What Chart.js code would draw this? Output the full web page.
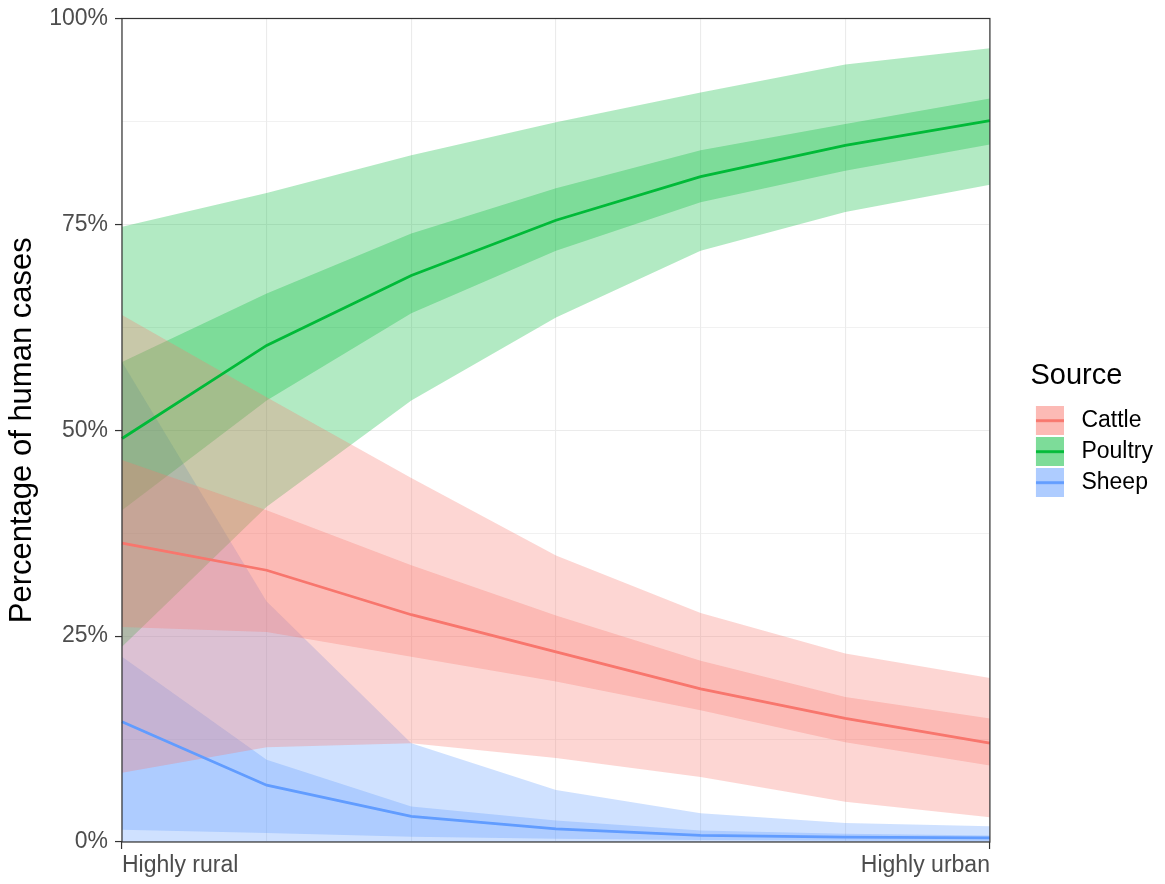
<!DOCTYPE html>
<html>
<head>
<meta charset="utf-8">
<script src="https://cdn.jsdelivr.net/npm/chart.js@4.4.1/dist/chart.umd.min.js"></script>
<style>
html,body{margin:0;padding:0;background:#fff;}
#wrap{width:1165px;height:884px;}
</style>
</head>
<body>
<div id="wrap"><canvas id="c" width="1165" height="884"></canvas></div>
<script>
//x categories (only the ends are labelled)
var xLabels=['Highly rural','','','','','','Highly urban'];
//y ticks
var yTickStep=12.5;
var yLabelStep=25;
var sources=['Cattle','Poultry','Sheep'];

//cattle: outer band, inner band, median
var cattleLightHi=[64,54,44.2,34.8,27.8,22.9,19.9];
var cattleDarkHi=[46.4,40.3,33.6,27.5,22,17.6,15];
var cattleMid=[36.3,33,27.6,23.1,18.6,15,12];
var cattleDarkLo=[26.1,25.5,22.5,19.5,16,12.1,9.3];
var cattleLightLo=[8.4,11.5,12,10.2,7.9,4.9,3];

//poultry
var poultryLightHi=[74.7,78.8,83.4,87.4,91,94.4,96.4];
var poultryDarkHi=[58.3,66.6,73.9,79.4,84,87.2,90.3];
var poultryMid=[49,60.3,68.8,75.5,80.8,84.6,87.6];
var poultryDarkLo=[40.3,53.6,64.2,71.8,77.7,81.5,84.7];
var poultryLightLo=[23.7,40.7,53.6,63.7,71.8,76.5,79.8];

//sheep
var sheepLightHi=[58.3,29.2,12,6.3,3.5,2.3,1.9];
var sheepDarkHi=[22.5,10,4.3,2.6,1.4,1,0.8];
var sheepMid=[14.6,6.9,3.1,1.6,0.8,0.6,0.5];
var sheepDarkLo=[1.5,1.1,0.65,0.4,0.25,0.15,0.1];
var sheepLightLo=[0,0,0,0,0,0,0];

var colors={Cattle:[248,118,109],Poultry:[0,186,56],Sheep:[97,156,255]};
var bands={
	Cattle:[cattleLightLo,cattleLightHi,cattleDarkLo,cattleDarkHi,cattleMid],
	Poultry:[poultryLightLo,poultryLightHi,poultryDarkLo,poultryDarkHi,poultryMid],
	Sheep:[sheepLightLo,sheepLightHi,sheepDarkLo,sheepDarkHi,sheepMid]
};

function rgba(c,a){return 'rgba('+c[0]+','+c[1]+','+c[2]+','+a+')';}
function rgb(c){return 'rgb('+c[0]+','+c[1]+','+c[2]+')';}

//build datasets: lower edge, upper edge filled to lower, for each band, then the line
var datasets=[];
sources.forEach(function(s){
	var c=colors[s], b=bands[s];
	var edge={fill:false,borderColor:'rgba(0,0,0,0)',borderWidth:0,pointRadius:0};
	datasets.push(Object.assign({label:s+' lo95',data:b[0]},edge));
	datasets.push(Object.assign({},edge,{label:s+' hi95',data:b[1],fill:'-1',backgroundColor:rgba(c,0.3)}));
	datasets.push(Object.assign({label:s+' lo50',data:b[2]},edge));
	datasets.push(Object.assign({},edge,{label:s+' hi50',data:b[3],fill:'-1',backgroundColor:rgba(c,0.3)}));
	datasets.push({label:s,data:b[4],fill:false,borderColor:rgb(c),borderWidth:2.8,pointRadius:0,order:-1});
});

//legend key: filled square with line, drawn on a small canvas
var keyW=72;
function makeKey(c){
	var cv=document.createElement('canvas');
	cv.width=60;cv.height=29;
	var k=cv.getContext('2d');
	k.fillStyle=rgba(c,0.3);
	k.fillRect(32,0,28,29);
	k.fillRect(32,0,28,29);
	k.strokeStyle=rgb(c);
	k.lineWidth=2.8;
	k.beginPath();k.moveTo(32,14.5);k.lineTo(60,14.5);k.stroke();
	return cv;
}
var keys=sources.map(function(s){return makeKey(colors[s]);});

//panel border
var panelBorder={
	id:'panelBorder',
	afterDatasetsDraw:function(chart){
		var a=chart.chartArea,ctx=chart.ctx;
		ctx.save();
		ctx.strokeStyle='#333';
		ctx.lineWidth=1.2;
		ctx.strokeRect(a.left,a.top,a.right-a.left,a.bottom-a.top);
		ctx.restore();
	}
};

Chart.defaults.font.family="'Liberation Sans', Arial, sans-serif";

var chart=new Chart(document.getElementById('c').getContext('2d'),{
	type:'line',
	data:{labels:xLabels,datasets:datasets},
	options:{
		responsive:false,
		animation:false,
		devicePixelRatio:1,
		events:[],
		layout:{padding:{top:18,right:2,left:0,bottom:0}},
		scales:{
			x:{
				offset:false,
				border:{display:false},
				grid:{
					color:'#ebebeb',
					lineWidth:1.1,
					tickLength:7,
					tickWidth:1.2,
					tickColor:function(c){return (c.index===0||c.index===xLabels.length-1)?'#333':'rgba(0,0,0,0)';}
				},
				ticks:{autoSkip:false,maxRotation:0,align:'inner',padding:3,color:'#4d4d4d',font:{size:23}},
				afterFit:function(s){s.height=42;}
			},
			y:{
				min:0,max:100,
				border:{display:false},
				grid:{
					color:'#ebebeb',
					lineWidth:function(c){return (c.tick&&c.tick.value%yLabelStep===0)?1.1:0.7;},
					tickLength:7,
					tickWidth:1.2,
					tickColor:function(c){return (c.tick&&c.tick.value%yLabelStep===0)?'#333':'rgba(0,0,0,0)';}
				},
				ticks:{
					stepSize:yTickStep,autoSkip:false,padding:7,color:'#4d4d4d',font:{size:23,lineHeight:1},
					callback:function(v){return v%yLabelStep===0?v+'%':'';}
				},
				title:{display:true,text:'Percentage of human cases',color:'#000',font:{size:31},padding:{top:4,bottom:0}},
				afterFit:function(s){s.width=122;}
			}
		},
		plugins:{
			tooltip:{enabled:false},
			legend:{
				position:'right',
				align:'center',
				fullSize:false,
				title:{display:true,text:'Source',color:'#000',font:{size:29},padding:{top:3,bottom:5},position:'center'},
				labels:{
					usePointStyle:true,
					pointStyleWidth:keyW,
					padding:8,
					color:'#1a1a1a',
					font:{size:23},
					generateLabels:function(){
						return sources.map(function(s,i){
							return {text:s,pointStyle:keys[i],fillStyle:'rgba(0,0,0,0)',strokeStyle:'rgba(0,0,0,0)',lineWidth:0,hidden:false,datasetIndex:i*5+4};
						});
					}
				}
			}
		}
	},
	plugins:[panelBorder]
});
</script>
</body>
</html>
